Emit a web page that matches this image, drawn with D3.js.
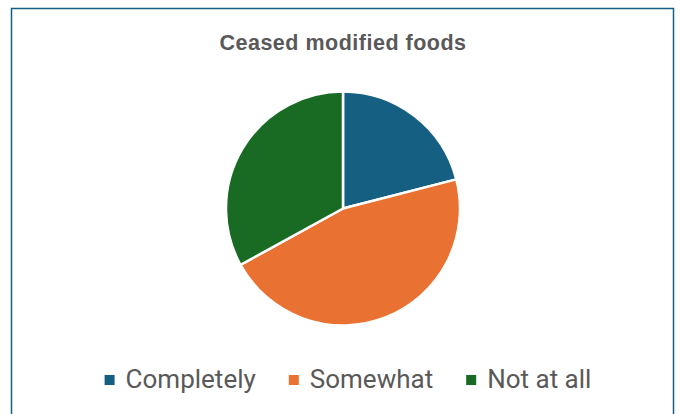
<!DOCTYPE html>
<html>
<head>
<meta charset="utf-8">
<script src="https://cdn.jsdelivr.net/npm/d3@7"></script>
<style>
  html, body { margin: 0; padding: 0; background: #fff; }
  svg { display: block; }
</style>
</head>
<body>
<svg id="chart" width="680" height="414"></svg>
<script>
// Share of respondents who ceased eating modified foods
const categories = ["Completely", "Somewhat", "Not at all"];
const shares = [21, 46, 33];
const colors = ["#156082", "#E97132", "#196B24"];
const title = "Ceased modified foods";

const svg = d3.select("#chart");

// chart frame
svg.append("rect")
  .attr("x", 11.5).attr("y", 8.5)
  .attr("width", 662).attr("height", 420)
  .attr("fill", "#fff")
  .attr("stroke", "#156082")
  .attr("stroke-width", 1.5);

// title
svg.append("text")
  .attr("x", 343).attr("y", 50)
  .attr("text-anchor", "middle")
  .attr("font-family", "'Liberation Sans', Arial, sans-serif")
  .attr("font-weight", "bold")
  .attr("font-size", 21.5)
  .attr("letter-spacing", 0.5)
  .attr("fill", "#595959")
  .text(title);

// pie
const cx = 343, cy = 208.5, r = 117;
const color = d3.scaleOrdinal().domain(categories).range(colors);
const pie = d3.pie().sort(null).value(d => d.v);
const arc = d3.arc().innerRadius(0).outerRadius(r);
const data = categories.map((c, i) => ({ c, v: shares[i] }));

svg.append("g")
  .attr("transform", `translate(${cx},${cy})`)
  .selectAll("path")
  .data(pie(data))
  .join("path")
  .attr("d", arc)
  .attr("fill", d => color(d.data.c))
  .attr("stroke", "#fff")
  .attr("stroke-width", 2.5)
  .attr("stroke-linejoin", "round");

// legend
const legend = svg.append("g");
const items = legend.selectAll("g")
  .data(categories)
  .join("g");
items.append("rect")
  .attr("width", 10).attr("height", 10)
  .attr("y", -13)
  .attr("fill", d => color(d));
items.append("text")
  .attr("x", 21)
  .attr("y", 0)
  .attr("font-family", "Roboto, sans-serif")
  .attr("font-size", 26)
  .attr("fill", "#595959")
  .text(d => d);

// lay the items out left to right, centred under the chart
const gap = 33, legendCenter = 348;
let widths = [];
items.each(function () {
  widths.push(21 + d3.select(this).select("text").node().getComputedTextLength());
});
const total = d3.sum(widths) + gap * (widths.length - 1);
let x0 = legendCenter - total / 2;
items.attr("transform", (d, i) => {
  const t = `translate(${x0},388)`;
  x0 += widths[i] + gap;
  return t;
});
</script>
</body>
</html>
